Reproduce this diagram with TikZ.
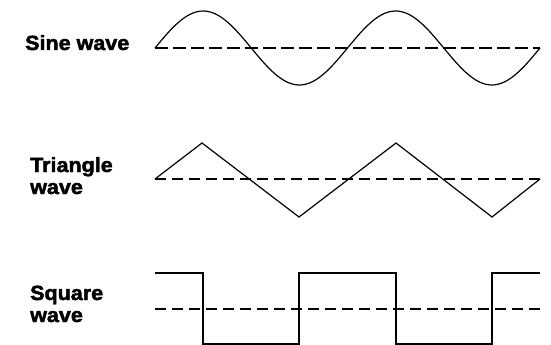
\documentclass[tikz,border=0pt]{standalone}
\usepackage{fontspec}
\setmainfont[BoldFeatures={FakeBold=2.2, FakeStretch=1.05}]{Liberation Sans}
\usetikzlibrary{positioning}

\begin{document}
\begin{tikzpicture}[x=1pt, y=-1pt,
    wavelabel/.style={font=\fontsize{20.5}{22}\selectfont\bfseries, align=left, anchor=base west, inner sep=0pt},
    wave/.style={black, line width=1.2pt, line join=miter},
    baseline dash/.style={black, line width=1.6pt, dash pattern=on 11pt off 6pt}
]
    \useasboundingbox (0,0) rectangle (551,345);
    % labels (base anchor sits on the last line)
    \node[wavelabel] (sinelbl) at (25,50) {Sine wave};
    \node[wavelabel] (trilbl) at (30,194) {Triangle\\wave};
    \node[wavelabel] (sqlbl) at (30,322) {Square\\wave};
    % sine wave
    \draw[baseline dash, line width=2.3pt, dash pattern=on 12.5pt off 5.5pt] (155,48) -- (540,48);
    \draw[wave] plot[domain=0:385, samples=120, smooth] ({155+\x}, {48-37*sin(\x*1.87013)});
    % triangle wave
    \draw[baseline dash] (155,179) -- (540,179);
    \draw[wave] (155,179) -- (202,143) -- (299,217) -- (396,143) -- (492,217) -- (540,179);
    % square wave
    \draw[baseline dash] (155,309) -- (540,309);
    \draw[wave, line width=1.5pt] (155,273) -- (203,273) -- (203,344) -- (299,344) -- (299,273)
        -- (396,273) -- (396,344) -- (492,344) -- (492,273) -- (540,273);
\end{tikzpicture}
\end{document}
